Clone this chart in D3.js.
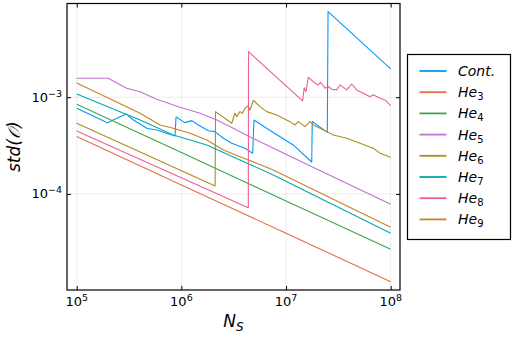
<!DOCTYPE html>
<html><head><meta charset="utf-8">
<script src="https://cdn.jsdelivr.net/npm/d3@7"></script>
<style>body{margin:0;background:#fff}svg{display:block}text{font-family:"DejaVu Sans",sans-serif;fill:#000}</style>
</head><body><svg id="c" width="512" height="341"></svg>
<script>
// ---- data ----
const contN   = [1e5,1.96e5,2.96e5,3.48e5,4.67e5,5.81e5,8.69e5,8.89e5,1.08e6,1.26e6,1.45e6,1.81e6,2.09e6,2.52e6,3.03e6,4.06e6,4.80e6,4.94e6,6.53e6,8.75e6,1.17e7,1.76e7,1.78e7,2.48e7,2.52e7,1e8];
const contStd = [7.69e-4,5.46e-4,6.72e-4,5.82e-4,4.78e-4,4.59e-4,3.98e-4,6.25e-4,5.46e-4,5.73e-4,5.17e-4,4.51e-4,4.41e-4,3.77e-4,3.34e-4,2.97e-4,2.64e-4,5.82e-4,4.78e-4,3.91e-4,3.21e-4,2.14e-4,5.62e-4,4.33e-4,7.67e-3,1.96e-3];
const he3N   = [1e5,1e6,1e7,1e8];
const he3Std = [3.92e-4,1.24e-4,3.92e-5,1.24e-5];
const he4N   = [1e5,1e6,1e7,1e8];
const he4Std = [8.47e-4,2.68e-4,8.47e-5,2.68e-5];
const he5N   = [1e5,2.0e5,3.0e5,4.03e5,5.81e5,9.70e5,1.51e6,2.18e6,3.13e6,4.53e6,1.96e7,1e8];
const he5Std = [1.57e-3,1.57e-3,1.24e-3,1.14e-3,9.54e-4,7.88e-4,6.83e-4,5.83e-4,4.78e-4,3.89e-4,1.81e-4,7.83e-5];
const he6N   = [1e5,2.10e6,2.12e6,3.03e6,3.25e6,3.38e6,3.63e6,3.82e6,4.05e6,4.33e6,4.53e6,4.87e6,5.64e6,6.53e6,8.14e6,1.09e7,1.22e7,1.31e7,1.52e7,1.69e7,1.82e7,2.11e7,2.45e7,2.83e7,3.80e7,5.09e7,6.82e7,7.90e7,1e8];
const he6Std = [5.38e-4,1.21e-4,7.10e-4,5.38e-4,6.83e-4,6.30e-4,7.10e-4,6.83e-4,7.69e-4,8.13e-4,7.39e-4,9.31e-4,7.99e-4,7.10e-4,6.56e-4,5.59e-4,5.17e-4,5.59e-4,4.97e-4,5.59e-4,5.17e-4,4.78e-4,4.41e-4,4.07e-4,3.77e-4,3.34e-4,2.97e-4,2.64e-4,2.40e-4];
const he7N   = [1e5,4.03e5,8.37e5,1.75e6,3.63e6,7.55e6,1e8];
const he7Std = [1.08e-3,5.82e-4,4.07e-4,3.21e-4,2.25e-4,1.57e-4,3.92e-5];
const he8N   = [1e5,4.36e6,4.38e6,1.44e7,1.49e7,1.55e7,1.63e7,1.89e7,2.03e7,2.14e7,2.36e7,2.53e7,2.73e7,3.05e7,3.28e7,3.80e7,4.24e7,4.73e7,5.47e7,6.34e7,6.82e7,7.90e7,8.82e7,1e8];
const he8Std = [4.48e-4,7.22e-5,2.96e-3,9.16e-4,1.25e-3,1.14e-3,1.61e-3,1.40e-3,1.34e-3,1.42e-3,1.24e-3,1.29e-3,1.21e-3,1.19e-3,1.34e-3,1.19e-3,1.37e-3,1.19e-3,1.10e-3,1.01e-3,1.06e-3,9.76e-4,9.38e-4,8.18e-4];
const he9N   = [1e5,4.03e5,6.25e5,8.37e5,1.21e6,1.75e6,2.52e6,3.63e6,5.24e6,7.55e6,1e8];
const he9Std = [1.40e-3,6.83e-4,5.17e-4,4.78e-4,4.24e-4,3.62e-4,2.85e-4,2.43e-4,2.08e-4,1.77e-4,4.52e-5];

const seriesNames = ["Cont.","He","He","He","He","He","He","He"];
const seriesSubs  = ["","3","4","5","6","7","8","9"];
const seriesColors = ["#009AFA","#E36F47","#3EA44E","#C371D2","#AC8E18","#00A9AD","#ED5E93","#C68225"];
const xTickVals = [1e5,1e6,1e7,1e8];
const xTickExp  = ["5","6","7","8"];
const yTickVals = [1e-4,1e-3];
const yTickExp  = ["−4","−3"];

const series = [
  [contN,contStd],[he3N,he3Std],[he4N,he4Std],[he5N,he5Std],
  [he6N,he6Std],[he7N,he7Std],[he8N,he8Std],[he9N,he9Std]
].map((p,i)=>({name:seriesNames[i],sub:seriesSubs[i],color:seriesColors[i],
  pts:p[0].map((n,j)=>({n:n,s:p[1][j]}))}));

// ---- layout ----
const L=67, R=400, T=3.5, B=290;
const svg=d3.select("#c");
const x=d3.scaleLog().domain([Math.pow(10,4.907),Math.pow(10,8.089)]).range([L,R]);
const y=d3.scaleLog().domain([Math.pow(10,-4.993),Math.pow(10,-2.031)]).range([B,T]);

// grid
const g=svg.append("g");
g.selectAll(".gx").data(xTickVals).join("line")
  .attr("x1",d=>x(d)).attr("x2",d=>x(d)).attr("y1",T).attr("y2",B)
  .attr("stroke","#000").attr("stroke-opacity",0.1).attr("stroke-width",0.8);
g.selectAll(".gy").data(yTickVals).join("line")
  .attr("y1",d=>y(d)).attr("y2",d=>y(d)).attr("x1",L).attr("x2",R)
  .attr("stroke","#000").attr("stroke-opacity",0.1).attr("stroke-width",0.8);

// lines
const line=d3.line().x(d=>x(d.n)).y(d=>y(d.s));
const clip=svg.append("clipPath").attr("id","cp").append("rect")
  .attr("x",L).attr("y",T).attr("width",R-L).attr("height",B-T);
svg.append("g").attr("clip-path","url(#cp)").selectAll("path").data(series).join("path")
  .attr("d",d=>line(d.pts)).attr("fill","none").attr("stroke",d=>d.color)
  .attr("stroke-width",1.1).attr("stroke-linejoin","round");

// axes (mirrored inward ticks)
const ax=svg.append("g");
ax.append("g").attr("transform",`translate(0,${B})`)
  .call(d3.axisBottom(x).tickValues(xTickVals).tickFormat("").tickSizeInner(-4).tickSizeOuter(0));
ax.append("g").attr("transform",`translate(0,${T})`)
  .call(d3.axisTop(x).tickValues(xTickVals).tickFormat("").tickSizeInner(-4).tickSizeOuter(0));
ax.append("g").attr("transform",`translate(${L},0)`)
  .call(d3.axisLeft(y).tickValues(yTickVals).tickFormat("").tickSizeInner(-4).tickSizeOuter(0));
ax.append("g").attr("transform",`translate(${R},0)`)
  .call(d3.axisRight(y).tickValues(yTickVals).tickFormat("").tickSizeInner(-4).tickSizeOuter(0));
ax.selectAll(".domain").remove();
ax.selectAll(".tick line").attr("stroke","#000").attr("stroke-width",1);
svg.append("rect").attr("x",L).attr("y",T).attr("width",R-L).attr("height",B-T)
  .attr("fill","none").attr("stroke","#000").attr("stroke-width",1.2);

// tick labels
const xl=svg.append("g").selectAll("text").data(xTickVals).join("text")
  .attr("x",d=>x(d)).attr("y",B+16).attr("text-anchor","middle").attr("font-size",13);
xl.append("tspan").text("10");
xl.append("tspan").attr("dy",-5).attr("font-size",9.5).text((d,i)=>xTickExp[i]);
const yl=svg.append("g").selectAll("text").data(yTickVals).join("text")
  .attr("x",L-5).attr("y",d=>y(d)+4.5).attr("text-anchor","end").attr("font-size",13);
yl.append("tspan").text("10");
yl.append("tspan").attr("dy",-5).attr("font-size",9.5).text((d,i)=>yTickExp[i]);

// axis titles
const xt=svg.append("text").attr("x",(L+R)/2).attr("y",327).attr("text-anchor","middle")
  .attr("font-size",17).attr("font-style","italic");
xt.append("tspan").text("N");
xt.append("tspan").attr("dy",4).attr("font-size",12).text("S");
svg.append("text").attr("transform",`translate(20,${(T+B)/2}) rotate(-90)`)
  .attr("text-anchor","middle").attr("font-size",17).attr("font-style","italic")
  .text("std(𝒪)");

// legend
const lg=svg.append("g");
lg.append("rect").attr("x",407.5).attr("y",54.5).attr("width",103).attr("height",185)
  .attr("fill","#fff").attr("stroke","#000").attr("stroke-width",1.2);
const items=lg.selectAll("g").data(series).join("g")
  .attr("transform",(d,i)=>`translate(0,${71+i*21.2})`);
items.append("line").attr("x1",419.5).attr("x2",446.5).attr("stroke",d=>d.color).attr("stroke-width",1.8);
const lt=items.append("text").attr("x",458).attr("y",5).attr("font-size",14).attr("font-style","italic");
lt.append("tspan").text(d=>d.name);
lt.append("tspan").attr("dy",3).attr("font-size",10).attr("font-style","normal").text(d=>d.sub);
</script></body></html>
